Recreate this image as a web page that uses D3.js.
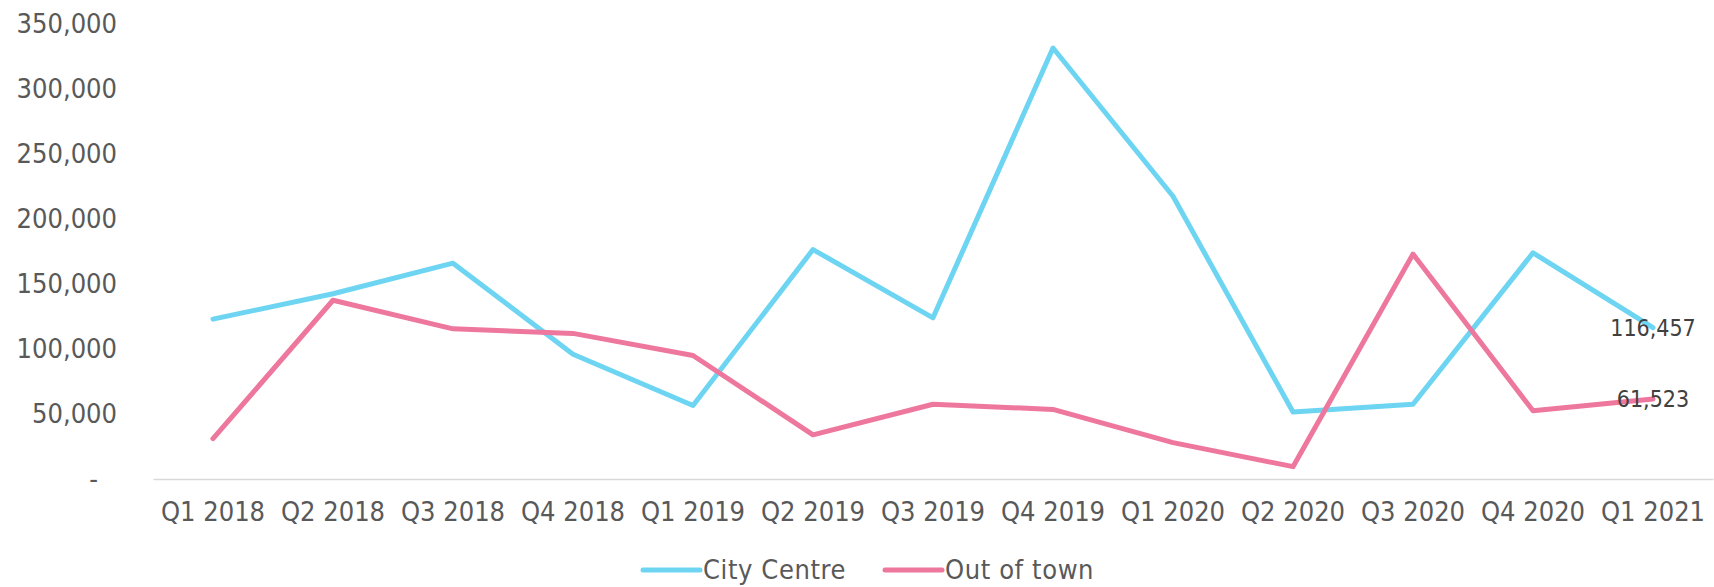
<!DOCTYPE html>
<html>
<head>
<meta charset="utf-8">
<script src="https://cdn.jsdelivr.net/npm/d3@7"></script>
<style>
  html, body { margin: 0; padding: 0; background: #fff; }
  svg text { font-family: 'DejaVu Sans Condensed', 'DejaVu Sans', sans-serif; font-stretch: condensed; }
</style>
</head>
<body>
<svg id="chart" width="1714" height="587"></svg>
<script>
const quarters = [
  'Q1 2018', 'Q2 2018', 'Q3 2018', 'Q4 2018',
  'Q1 2019', 'Q2 2019', 'Q3 2019', 'Q4 2019',
  'Q1 2020', 'Q2 2020', 'Q3 2020', 'Q4 2020',
  'Q1 2021'
];
const cityCentre = [
  123000, 142500, 166000, 96000, 56500, 176500, 124000,
  331500, 217500, 51500, 57500, 174000, 116457
];
const outOfTown = [
  31000, 137500, 115500, 112000, 95000, 34000, 57500,
  53500, 28000, 9500, 173000, 52500, 61523
];
const yTicks = [0, 50000, 100000, 150000, 200000, 250000, 300000, 350000];

const series = [
  { name: 'City Centre', values: cityCentre, color: '#6DD5F2' },
  { name: 'Out of town', values: outOfTown, color: '#EE779E' }
];

const svg = d3.select('#chart');

const x = d3.scaleBand().domain(quarters).range([153, 1713]);
const y = d3.scaleLinear().domain([0, 350000]).range([479, 24]);
const fmt = d3.format(',');

// y axis labels (no line, Excel accounting style "-" for zero)
const yAxis = svg.append('g')
  .attr('transform', 'translate(117,0)')
  .call(d3.axisLeft(y).tickValues(yTicks).tickSize(0).tickPadding(0)
    .tickFormat(d => (d === 0 ? '-' : fmt(d))));
yAxis.select('.domain').remove();
yAxis.selectAll('text')
  .attr('fill', '#595959')
  .style('font-size', '27px')
  .attr('dx', d => (d === 0 ? -19 : 0));

// x axis: light baseline plus category labels
const xAxis = svg.append('g')
  .attr('transform', 'translate(0,' + y(0) + ')')
  .call(d3.axisBottom(x).tickSize(0).tickPadding(23));
xAxis.select('.domain')
  .attr('stroke', '#D9D9D9')
  .attr('stroke-width', 1.5);
xAxis.selectAll('text')
  .attr('fill', '#595959')
  .style('font-size', '27px');

const line = d3.line()
  .x((d, i) => x(quarters[i]) + x.bandwidth() / 2)
  .y(d => y(d));

svg.append('g')
  .selectAll('path')
  .data(series)
  .join('path')
  .attr('d', d => line(d.values))
  .attr('fill', 'none')
  .attr('stroke', d => d.color)
  .attr('stroke-width', 5)
  .attr('stroke-linejoin', 'round')
  .attr('stroke-linecap', 'round');

// value labels on the last point
const last = quarters.length - 1;
svg.append('g')
  .selectAll('text')
  .data(series)
  .join('text')
  .attr('x', x(quarters[last]) + x.bandwidth() / 2)
  .attr('y', d => y(d.values[last]))
  .attr('dy', '0.35em')
  .attr('text-anchor', 'middle')
  .attr('fill', '#404040')
  .style('font-size', '23px')
  .text(d => fmt(d.values[last]));

// legend
const legendX = [643, 885];
const legend = svg.append('g')
  .selectAll('g')
  .data(series)
  .join('g')
  .attr('transform', (d, i) => 'translate(' + legendX[i] + ',570)');
legend.append('line')
  .attr('x1', 0)
  .attr('x2', 57)
  .attr('stroke', d => d.color)
  .attr('stroke-width', 5)
  .attr('stroke-linecap', 'round');
legend.append('text')
  .attr('x', 60)
  .attr('dy', '0.35em')
  .attr('fill', '#595959')
  .style('font-size', '27px')
  .style('letter-spacing', '0.6px')
  .text(d => d.name);
</script>
</body>
</html>
